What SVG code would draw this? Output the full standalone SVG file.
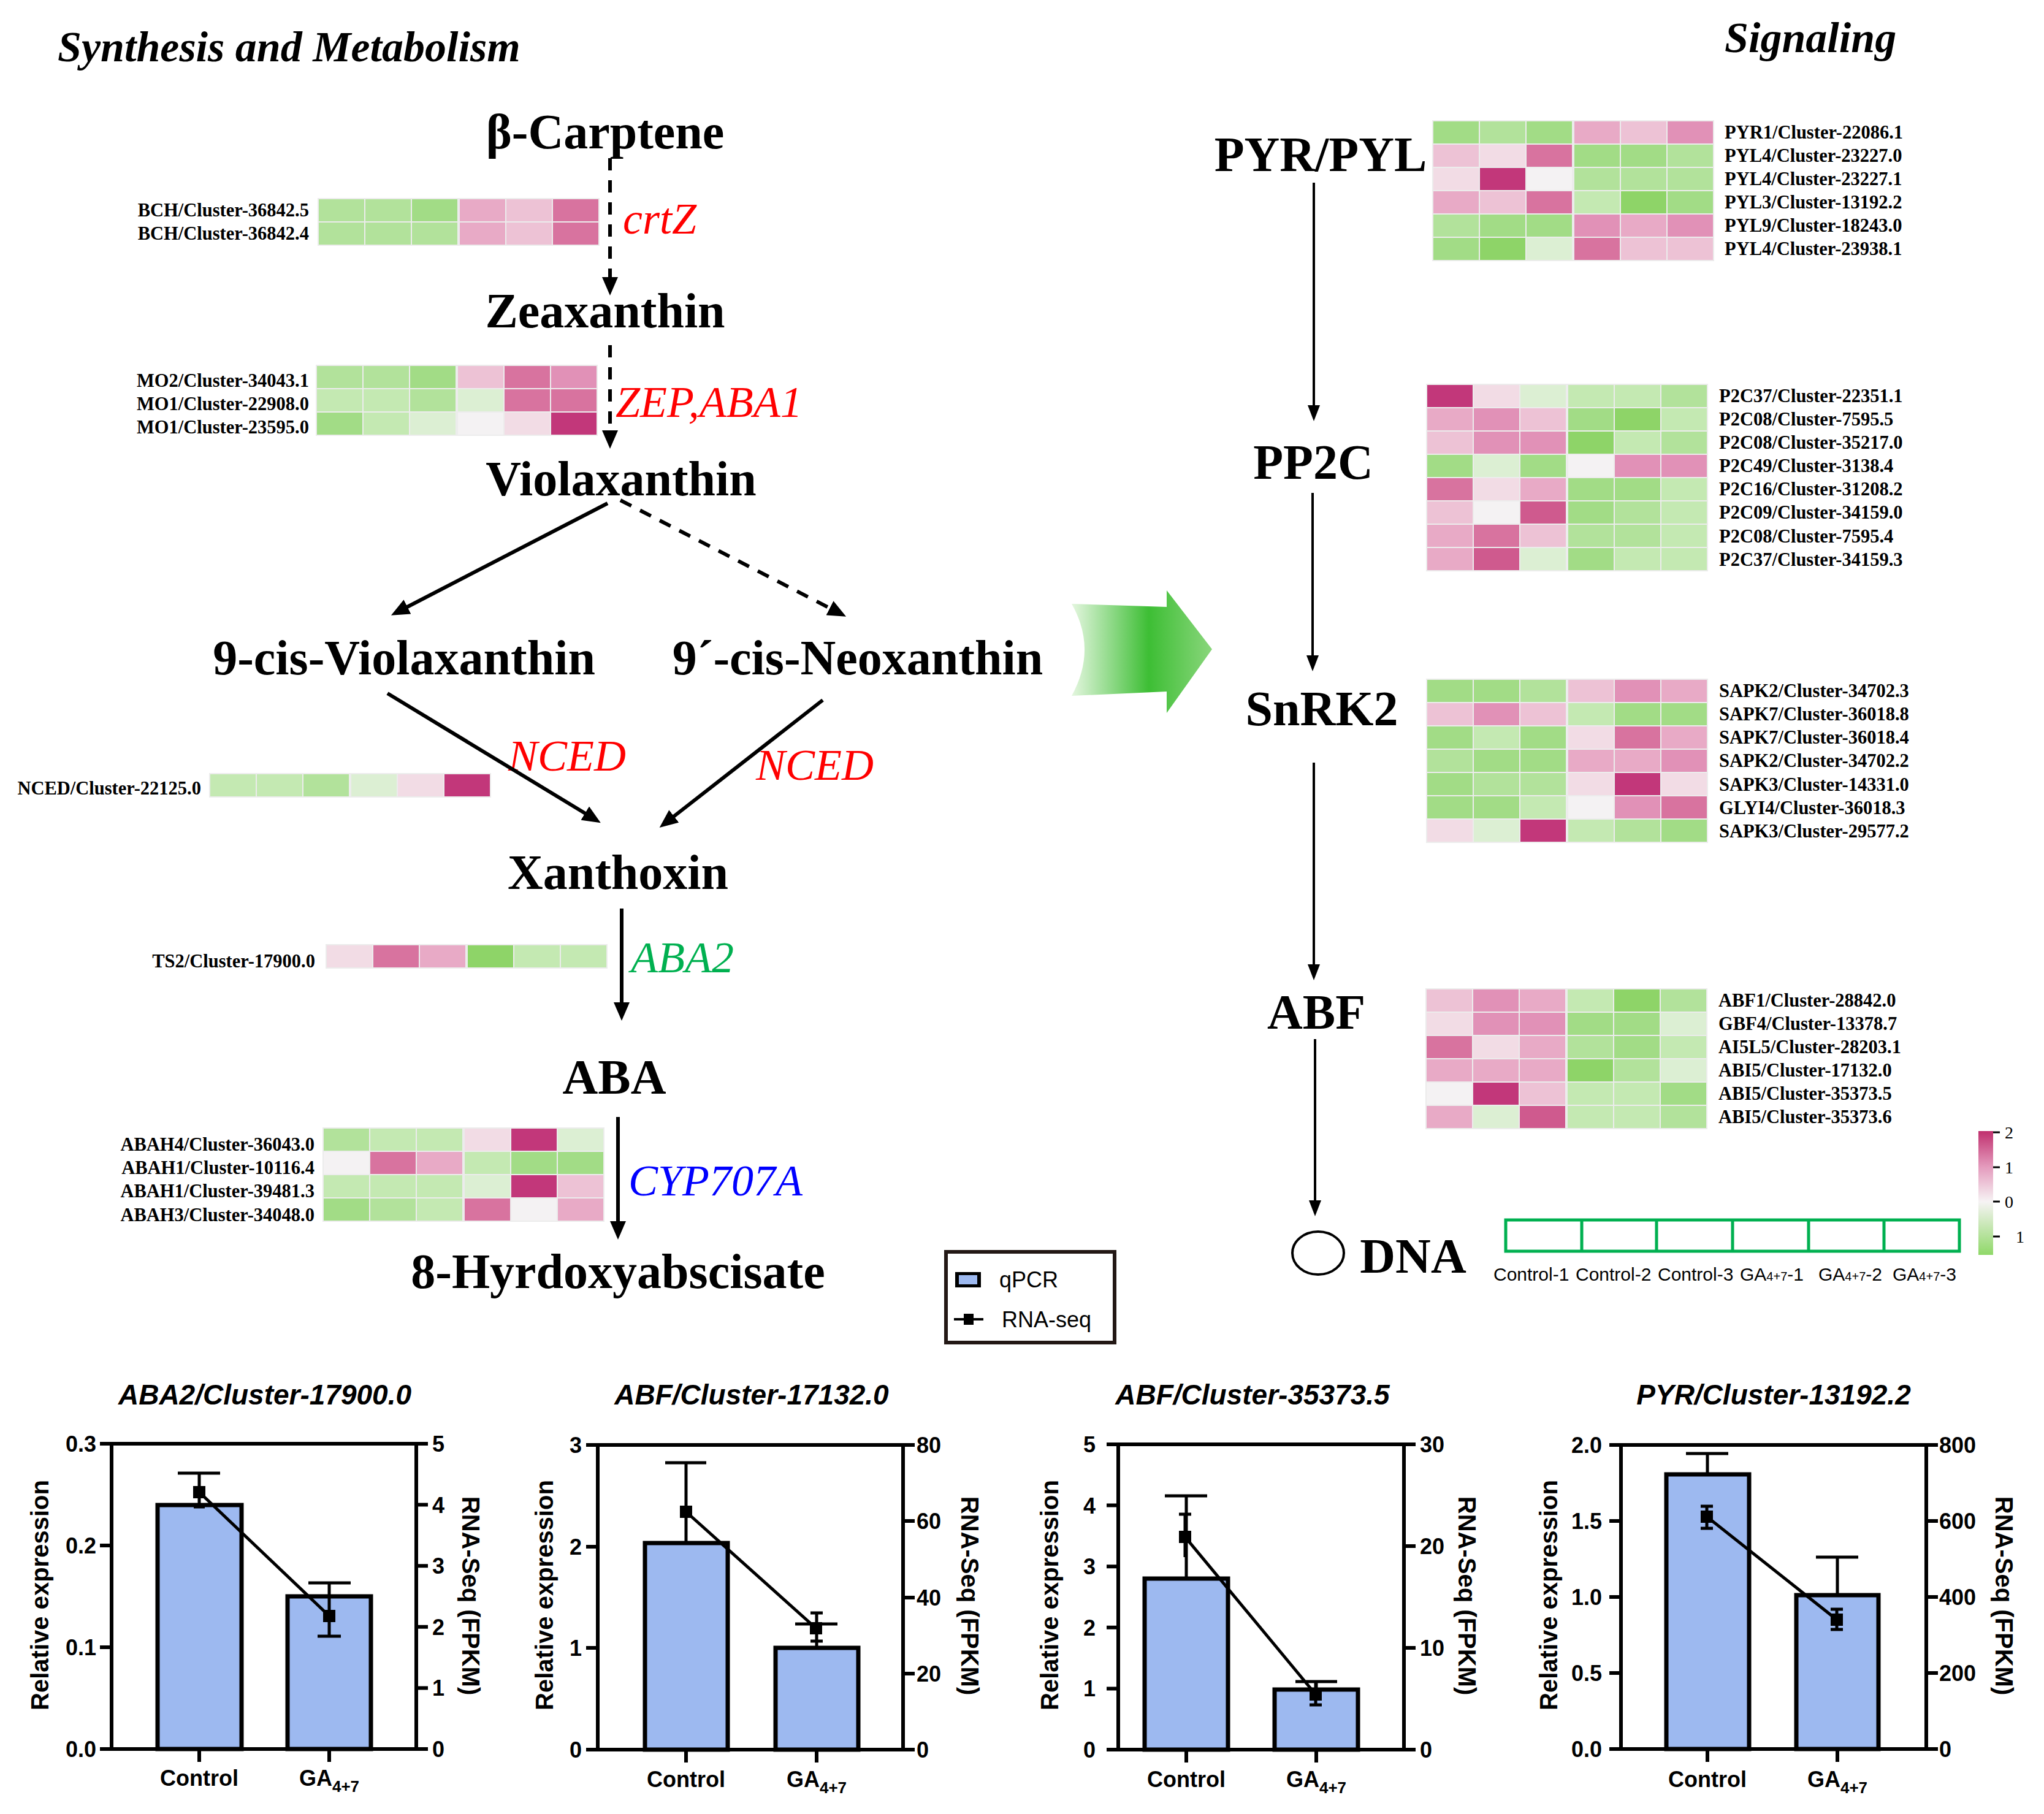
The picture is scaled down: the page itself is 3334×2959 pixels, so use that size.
<svg xmlns="http://www.w3.org/2000/svg" width="3334" height="2959" viewBox="0 0 3334 2959">
<style>
.ser{font-family:"Liberation Serif","Times New Roman",serif}
.cmp{font-family:"Liberation Serif","Times New Roman",serif;font-weight:bold;font-size:80px;text-anchor:middle;fill:#000}
.ttl{font-family:"Liberation Serif","Times New Roman",serif;font-weight:bold;font-style:italic;font-size:70px;fill:#000}
.enz{font-family:"Liberation Serif","Times New Roman",serif;font-style:italic;font-size:72px}
.lbl{font-family:"Liberation Serif","Times New Roman",serif;font-weight:bold;font-size:30.5px;fill:#000}
.lL{text-anchor:end}
.hm rect{width:74px;height:36px}
.bg{fill:#ececec}
.g4{fill:#8ed468}.g3{fill:#a2dc86}.g2{fill:#b2e29b}.g1{fill:#c4e9b2}.g0{fill:#dcefd3}.w{fill:#f4f2f3}
.p0{fill:#f2dce5}.p1{fill:#edc2d5}.p2{fill:#e8aac6}.p3{fill:#e191b7}.p4{fill:#d8739f}.p5{fill:#cf5a8e}.p6{fill:#c2377a}
.arr{stroke:#000;stroke-width:6;fill:none}
.dash{stroke-dasharray:20 16}
.arr2{stroke:#000;stroke-width:4;fill:none}
.ct{font-family:"Liberation Sans",Arial,sans-serif;font-weight:bold;font-style:italic;font-size:46px;text-anchor:middle}
.tk{font-family:"Liberation Sans",Arial,sans-serif;font-weight:bold;font-size:36px}
.te{text-anchor:end}
.xl{font-family:"Liberation Sans",Arial,sans-serif;font-weight:bold;font-size:36px;text-anchor:middle}
.sub{font-size:26px}
.yl{font-family:"Liberation Sans",Arial,sans-serif;font-weight:bold;font-size:40px;text-anchor:middle}
.ax{stroke:#000;stroke-width:6;fill:none}
.bar{fill:#9db9f0;stroke:#000;stroke-width:7}
.eb{stroke:#000;stroke-width:5;fill:none}
.cl{font-family:"Liberation Sans",Arial,sans-serif;font-size:30px;fill:#000}
.lg{font-family:"Liberation Sans",Arial,sans-serif;font-size:36px;fill:#000}
</style>
<defs>
<marker id="ah" viewBox="0 0 30 26" refX="22" refY="13" markerWidth="30" markerHeight="26" markerUnits="userSpaceOnUse" orient="auto"><path d="M0,0 L30,13 L0,26 Z" fill="#000"/></marker>
<marker id="ah2" viewBox="0 0 26 20" refX="18" refY="10" markerWidth="26" markerHeight="20" markerUnits="userSpaceOnUse" orient="auto"><path d="M0,0 L26,10 L0,20 Z" fill="#000"/></marker>
<linearGradient id="cs" x1="0" y1="0" x2="0" y2="1">
<stop offset="0" stop-color="#c0306e"/><stop offset="0.29" stop-color="#e49bbd"/><stop offset="0.57" stop-color="#f6f3f4"/><stop offset="1" stop-color="#8fd868"/>
</linearGradient>
<linearGradient id="ga" x1="0" y1="0" x2="1" y2="0">
<stop offset="0" stop-color="#e4f6df"/><stop offset="0.55" stop-color="#3dbe34"/><stop offset="1" stop-color="#8ad67c"/>
</linearGradient>
</defs>
<rect width="3334" height="2959" fill="#fff"/>

<text class="ttl" x="94" y="100">Synthesis and Metabolism</text>
<text class="ttl" x="2813" y="85">Signaling</text>

<!-- compounds -->
<g id="n-carotene"><text class="cmp" x="987" y="242">β-Carptene</text></g>
<g id="n-zeaxanthin"><text class="cmp" x="987" y="534">Zeaxanthin</text></g>
<g id="n-violaxanthin"><text class="cmp" x="1013" y="808">Violaxanthin</text></g>
<g id="n-9cisviola"><text class="cmp" x="659" y="1100">9-cis-Violaxanthin</text></g>
<g id="n-9cisneo"><text class="cmp" x="1399" y="1100">9´-cis-Neoxanthin</text></g>
<g id="n-xanthoxin"><text class="cmp" x="1008" y="1450">Xanthoxin</text></g>
<g id="n-aba"><text class="cmp" x="1002" y="1784">ABA</text></g>
<g id="n-8ha"><text class="cmp" x="1008" y="2101">8-Hyrdoxyabscisate</text></g>

<g id="n-pyr"><text class="cmp" x="2154" y="279">PYR/PYL</text></g>
<g id="n-pp2c"><text class="cmp" x="2142" y="781">PP2C</text></g>
<g id="n-snrk2"><text class="cmp" x="2156" y="1183">SnRK2</text></g>
<g id="n-abf"><text class="cmp" x="2147" y="1678">ABF</text></g>
<g id="n-dna"><ellipse cx="2150" cy="2044" rx="42" ry="35" fill="none" stroke="#000" stroke-width="4"/><text class="cmp" x="2305" y="2076">DNA</text></g>

<!-- enzymes -->
<g id="enzymes">
<text class="enz" x="1016" y="381" fill="#ff0000">crtZ</text>
<text class="enz" x="1004" y="680" fill="#ff0000">ZEP,ABA1</text>
<text class="enz" x="829" y="1257" fill="#ff0000">NCED</text>
<text class="enz" x="1233" y="1272" fill="#ff0000">NCED</text>
<text class="enz" x="1029" y="1586" fill="#00b050">ABA2</text>
<text class="enz" x="1025" y="1950" fill="#0000ff">CYP707A</text>
</g>

<!-- connectors -->
<g id="connectors">
<path class="arr dash" d="M995,258 V474" marker-end="url(#ah)"/>
<path class="arr dash" d="M995,563 V724" marker-end="url(#ah)"/>
<path class="arr" d="M991,821 L645,1000" marker-end="url(#ah)"/>
<path class="arr dash" d="M1012,816 L1373,1002" marker-end="url(#ah)"/>
<path class="arr" d="M632,1131 L973,1338" marker-end="url(#ah)"/>
<path class="arr" d="M1342,1142 L1082,1345" marker-end="url(#ah)"/>
<path class="arr" d="M1014,1482 V1657" marker-end="url(#ah)"/>
<path class="arr" d="M1008,1822 V2014" marker-end="url(#ah)"/>
<path class="arr2" d="M2143,298 V679" marker-end="url(#ah2)"/>
<path class="arr2" d="M2141,804 V1087" marker-end="url(#ah2)"/>
<path class="arr2" d="M2143,1244 V1591" marker-end="url(#ah2)"/>
<path class="arr2" d="M2145,1695 V1976" marker-end="url(#ah2)"/>
<path d="M1748,985 Q1790,1059 1748,1135 L1903,1128 L1903,1163 L1977,1059 L1903,963 L1903,990 Z" fill="url(#ga)"/>
</g>

<!-- heatmaps -->
<g id="hm-bch" class="hm" transform="translate(519,324)">
<rect class="bg" x="-1" y="-1" style="width:460px;height:78px"/>
<rect x="1" y="1" class="g2"/><rect x="77" y="1" class="g2"/><rect x="153" y="1" class="g3"/><rect x="231" y="1" class="p2"/><rect x="307" y="1" class="p1"/><rect x="383" y="1" class="p4"/>
<rect x="1" y="39" class="g2"/><rect x="77" y="39" class="g2"/><rect x="153" y="39" class="g2"/><rect x="231" y="39" class="p2"/><rect x="307" y="39" class="p1"/><rect x="383" y="39" class="p4"/>
</g>
<g id="lb-bch" class="lbl lL"><text x="504" y="353">BCH/Cluster-36842.5</text><text x="504" y="391">BCH/Cluster-36842.4</text></g>

<g id="hm-mo" class="hm" transform="translate(516,596)">
<rect class="bg" x="-1" y="-1" style="width:460px;height:116px"/>
<rect x="1" y="1" class="g2"/><rect x="77" y="1" class="g2"/><rect x="153" y="1" class="g3"/><rect x="231" y="1" class="p1"/><rect x="307" y="1" class="p4"/><rect x="383" y="1" class="p3"/>
<rect x="1" y="39" class="g1"/><rect x="77" y="39" class="g1"/><rect x="153" y="39" class="g2"/><rect x="231" y="39" class="g0"/><rect x="307" y="39" class="p4"/><rect x="383" y="39" class="p4"/>
<rect x="1" y="77" class="g3"/><rect x="77" y="77" class="g1"/><rect x="153" y="77" class="g0"/><rect x="231" y="77" class="w"/><rect x="307" y="77" class="p0"/><rect x="383" y="77" class="p6"/>
</g>
<g id="lb-mo" class="lbl lL"><text x="504" y="631">MO2/Cluster-34043.1</text><text x="504" y="669">MO1/Cluster-22908.0</text><text x="504" y="707">MO1/Cluster-23595.0</text></g>

<g id="hm-nced" class="hm" transform="translate(342,1262)">
<rect class="bg" x="-1" y="-1" style="width:460px;height:40px"/>
<rect x="1" y="1" class="g1"/><rect x="77" y="1" class="g1"/><rect x="153" y="1" class="g2"/><rect x="231" y="1" class="g0"/><rect x="307" y="1" class="p0"/><rect x="383" y="1" class="p6"/>
</g>
<g id="lb-nced" class="lbl lL"><text x="328" y="1296">NCED/Cluster-22125.0</text></g>

<g id="hm-ts2" class="hm" transform="translate(532,1541)">
<rect class="bg" x="-1" y="-1" style="width:460px;height:40px"/>
<rect x="1" y="1" class="p0"/><rect x="77" y="1" class="p4"/><rect x="153" y="1" class="p2"/><rect x="231" y="1" class="g4"/><rect x="307" y="1" class="g1"/><rect x="383" y="1" class="g1"/>
</g>
<g id="lb-ts2" class="lbl lL"><text x="514" y="1578">TS2/Cluster-17900.0</text></g>

<g id="hm-abah" class="hm" transform="translate(527,1840)">
<rect class="bg" x="-1" y="-1" style="width:460px;height:154px"/>
<rect x="1" y="1" class="g2"/><rect x="77" y="1" class="g1"/><rect x="153" y="1" class="g1"/><rect x="231" y="1" class="p0"/><rect x="307" y="1" class="p6"/><rect x="383" y="1" class="g0"/>
<rect x="1" y="39" class="w"/><rect x="77" y="39" class="p4"/><rect x="153" y="39" class="p2"/><rect x="231" y="39" class="g1"/><rect x="307" y="39" class="g3"/><rect x="383" y="39" class="g3"/>
<rect x="1" y="77" class="g1"/><rect x="77" y="77" class="g1"/><rect x="153" y="77" class="g1"/><rect x="231" y="77" class="g0"/><rect x="307" y="77" class="p6"/><rect x="383" y="77" class="p1"/>
<rect x="1" y="115" class="g3"/><rect x="77" y="115" class="g2"/><rect x="153" y="115" class="g1"/><rect x="231" y="115" class="p4"/><rect x="307" y="115" class="w"/><rect x="383" y="115" class="p2"/>
</g>
<g id="lb-abah" class="lbl lL"><text x="513" y="1877">ABAH4/Cluster-36043.0</text><text x="513" y="1915">ABAH1/Cluster-10116.4</text><text x="513" y="1953">ABAH1/Cluster-39481.3</text><text x="513" y="1992">ABAH3/Cluster-34048.0</text></g>

<g id="hm-pyr" class="hm" transform="translate(2337,197)">
<rect class="bg" x="-1" y="-1" style="width:460px;height:230px"/>
<rect x="1" y="1" class="g3"/><rect x="77" y="1" class="g2"/><rect x="153" y="1" class="g3"/><rect x="231" y="1" class="p2"/><rect x="307" y="1" class="p1"/><rect x="383" y="1" class="p3"/>
<rect x="1" y="39" class="p1"/><rect x="77" y="39" class="p0"/><rect x="153" y="39" class="p4"/><rect x="231" y="39" class="g3"/><rect x="307" y="39" class="g3"/><rect x="383" y="39" class="g2"/>
<rect x="1" y="77" class="p0"/><rect x="77" y="77" class="p6"/><rect x="153" y="77" class="w"/><rect x="231" y="77" class="g2"/><rect x="307" y="77" class="g2"/><rect x="383" y="77" class="g2"/>
<rect x="1" y="115" class="p2"/><rect x="77" y="115" class="p1"/><rect x="153" y="115" class="p4"/><rect x="231" y="115" class="g1"/><rect x="307" y="115" class="g4"/><rect x="383" y="115" class="g3"/>
<rect x="1" y="153" class="g2"/><rect x="77" y="153" class="g3"/><rect x="153" y="153" class="g3"/><rect x="231" y="153" class="p3"/><rect x="307" y="153" class="p2"/><rect x="383" y="153" class="p3"/>
<rect x="1" y="191" class="g3"/><rect x="77" y="191" class="g4"/><rect x="153" y="191" class="g0"/><rect x="231" y="191" class="p4"/><rect x="307" y="191" class="p1"/><rect x="383" y="191" class="p1"/>
</g>
<g id="lb-pyr" class="lbl"><text x="2813" y="226">PYR1/Cluster-22086.1</text><text x="2813" y="264">PYL4/Cluster-23227.0</text><text x="2813" y="302">PYL4/Cluster-23227.1</text><text x="2813" y="340">PYL3/Cluster-13192.2</text><text x="2813" y="378">PYL9/Cluster-18243.0</text><text x="2813" y="416">PYL4/Cluster-23938.1</text></g>

<g id="hm-p2c" class="hm" transform="translate(2327,627)">
<rect class="bg" x="-1" y="-1" style="width:460px;height:306px"/>
<rect x="1" y="1" class="p6"/><rect x="77" y="1" class="p0"/><rect x="153" y="1" class="g0"/><rect x="231" y="1" class="g1"/><rect x="307" y="1" class="g1"/><rect x="383" y="1" class="g2"/>
<rect x="1" y="39" class="p2"/><rect x="77" y="39" class="p3"/><rect x="153" y="39" class="p1"/><rect x="231" y="39" class="g3"/><rect x="307" y="39" class="g4"/><rect x="383" y="39" class="g1"/>
<rect x="1" y="77" class="p1"/><rect x="77" y="77" class="p3"/><rect x="153" y="77" class="p3"/><rect x="231" y="77" class="g4"/><rect x="307" y="77" class="g1"/><rect x="383" y="77" class="g2"/>
<rect x="1" y="115" class="g3"/><rect x="77" y="115" class="g0"/><rect x="153" y="115" class="g3"/><rect x="231" y="115" class="w"/><rect x="307" y="115" class="p3"/><rect x="383" y="115" class="p3"/>
<rect x="1" y="153" class="p4"/><rect x="77" y="153" class="p0"/><rect x="153" y="153" class="p2"/><rect x="231" y="153" class="g3"/><rect x="307" y="153" class="g3"/><rect x="383" y="153" class="g1"/>
<rect x="1" y="191" class="p1"/><rect x="77" y="191" class="w"/><rect x="153" y="191" class="p5"/><rect x="231" y="191" class="g3"/><rect x="307" y="191" class="g2"/><rect x="383" y="191" class="g1"/>
<rect x="1" y="229" class="p2"/><rect x="77" y="229" class="p4"/><rect x="153" y="229" class="p1"/><rect x="231" y="229" class="g2"/><rect x="307" y="229" class="g2"/><rect x="383" y="229" class="g1"/>
<rect x="1" y="267" class="p2"/><rect x="77" y="267" class="p5"/><rect x="153" y="267" class="g0"/><rect x="231" y="267" class="g3"/><rect x="307" y="267" class="g1"/><rect x="383" y="267" class="g1"/>
</g>
<g id="lb-p2c" class="lbl"><text x="2804" y="656">P2C37/Cluster-22351.1</text><text x="2804" y="694">P2C08/Cluster-7595.5</text><text x="2804" y="732">P2C08/Cluster-35217.0</text><text x="2804" y="770">P2C49/Cluster-3138.4</text><text x="2804" y="808">P2C16/Cluster-31208.2</text><text x="2804" y="846">P2C09/Cluster-34159.0</text><text x="2804" y="885">P2C08/Cluster-7595.4</text><text x="2804" y="923">P2C37/Cluster-34159.3</text></g>

<g id="hm-sapk" class="hm" transform="translate(2327,1108)">
<rect class="bg" x="-1" y="-1" style="width:460px;height:268px"/>
<rect x="1" y="1" class="g3"/><rect x="77" y="1" class="g3"/><rect x="153" y="1" class="g2"/><rect x="231" y="1" class="p1"/><rect x="307" y="1" class="p3"/><rect x="383" y="1" class="p2"/>
<rect x="1" y="39" class="p1"/><rect x="77" y="39" class="p3"/><rect x="153" y="39" class="p1"/><rect x="231" y="39" class="g1"/><rect x="307" y="39" class="g3"/><rect x="383" y="39" class="g3"/>
<rect x="1" y="77" class="g3"/><rect x="77" y="77" class="g1"/><rect x="153" y="77" class="g3"/><rect x="231" y="77" class="p0"/><rect x="307" y="77" class="p4"/><rect x="383" y="77" class="p2"/>
<rect x="1" y="115" class="g2"/><rect x="77" y="115" class="g3"/><rect x="153" y="115" class="g3"/><rect x="231" y="115" class="p2"/><rect x="307" y="115" class="p2"/><rect x="383" y="115" class="p3"/>
<rect x="1" y="153" class="g3"/><rect x="77" y="153" class="g2"/><rect x="153" y="153" class="g2"/><rect x="231" y="153" class="p0"/><rect x="307" y="153" class="p6"/><rect x="383" y="153" class="p0"/>
<rect x="1" y="191" class="g3"/><rect x="77" y="191" class="g3"/><rect x="153" y="191" class="g1"/><rect x="231" y="191" class="w"/><rect x="307" y="191" class="p3"/><rect x="383" y="191" class="p4"/>
<rect x="1" y="229" class="p0"/><rect x="77" y="229" class="g0"/><rect x="153" y="229" class="p6"/><rect x="231" y="229" class="g1"/><rect x="307" y="229" class="g2"/><rect x="383" y="229" class="g3"/>
</g>
<g id="lb-sapk" class="lbl"><text x="2804" y="1137">SAPK2/Cluster-34702.3</text><text x="2804" y="1175">SAPK7/Cluster-36018.8</text><text x="2804" y="1213">SAPK7/Cluster-36018.4</text><text x="2804" y="1251">SAPK2/Cluster-34702.2</text><text x="2804" y="1290">SAPK3/Cluster-14331.0</text><text x="2804" y="1328">GLYI4/Cluster-36018.3</text><text x="2804" y="1366">SAPK3/Cluster-29577.2</text></g>

<g id="hm-abf" class="hm" transform="translate(2326,1613)">
<rect class="bg" x="-1" y="-1" style="width:460px;height:230px"/>
<rect x="1" y="1" class="p1"/><rect x="77" y="1" class="p3"/><rect x="153" y="1" class="p2"/><rect x="231" y="1" class="g1"/><rect x="307" y="1" class="g4"/><rect x="383" y="1" class="g2"/>
<rect x="1" y="39" class="p0"/><rect x="77" y="39" class="p3"/><rect x="153" y="39" class="p3"/><rect x="231" y="39" class="g3"/><rect x="307" y="39" class="g3"/><rect x="383" y="39" class="g0"/>
<rect x="1" y="77" class="p4"/><rect x="77" y="77" class="p0"/><rect x="153" y="77" class="p2"/><rect x="231" y="77" class="g2"/><rect x="307" y="77" class="g3"/><rect x="383" y="77" class="g1"/>
<rect x="1" y="115" class="p2"/><rect x="77" y="115" class="p2"/><rect x="153" y="115" class="p2"/><rect x="231" y="115" class="g4"/><rect x="307" y="115" class="g2"/><rect x="383" y="115" class="g0"/>
<rect x="1" y="153" class="w"/><rect x="77" y="153" class="p6"/><rect x="153" y="153" class="p1"/><rect x="231" y="153" class="g1"/><rect x="307" y="153" class="g1"/><rect x="383" y="153" class="g3"/>
<rect x="1" y="191" class="p2"/><rect x="77" y="191" class="g0"/><rect x="153" y="191" class="p5"/><rect x="231" y="191" class="g1"/><rect x="307" y="191" class="g1"/><rect x="383" y="191" class="g2"/>
</g>
<g id="lb-abf" class="lbl"><text x="2803" y="1642">ABF1/Cluster-28842.0</text><text x="2803" y="1680">GBF4/Cluster-13378.7</text><text x="2803" y="1718">AI5L5/Cluster-28203.1</text><text x="2803" y="1756">ABI5/Cluster-17132.0</text><text x="2803" y="1794">ABI5/Cluster-35373.5</text><text x="2803" y="1832">ABI5/Cluster-35373.6</text></g>

<!-- color scale -->
<g id="colorscale">
<rect x="3227" y="1845" width="24" height="202" fill="url(#cs)"/>
<path d="M3251,1847 H3262 M3251,1904 H3262 M3251,1960 H3262 M3251,2017 H3262" stroke="#000" stroke-width="3"/>
<g class="ser" font-size="28"><text x="3270" y="1857">2</text><text x="3270" y="1914">1</text><text x="3270" y="1970">0</text><text x="3288" y="2027">1</text></g>
</g>

<!-- sample legend -->
<g id="samples">
<rect x="2456" y="1990" width="740" height="51" fill="none" stroke="#00b050" stroke-width="5"/>
<path d="M2580,1990 V2041 M2702,1990 V2041 M2826,1990 V2041 M2950,1990 V2041 M3073,1990 V2041" stroke="#00b050" stroke-width="5"/>
<text class="cl" x="2436" y="2089">Control-1</text>
<text class="cl" x="2570" y="2089">Control-2</text>
<text class="cl" x="2704" y="2089">Control-3</text>
<text class="cl" x="2838" y="2089">GA<tspan font-size="20">4+7</tspan>-1</text>
<text class="cl" x="2966" y="2089">GA<tspan font-size="20">4+7</tspan>-2</text>
<text class="cl" x="3087" y="2089">GA<tspan font-size="20">4+7</tspan>-3</text>
</g>

<!-- qPCR legend -->
<g id="legend">
<rect x="1543" y="2042" width="275" height="148" fill="#fff" stroke="#231815" stroke-width="6"/>
<rect x="1558" y="2075" width="42" height="25" fill="#000"/>
<rect x="1564" y="2080" width="30" height="15" fill="#9db9f0"/>
<text class="lg" x="1630" y="2100">qPCR</text>
<path d="M1556,2152 H1604" stroke="#000" stroke-width="4"/>
<rect x="1572" y="2143" width="16" height="18" fill="#000"/>
<text class="lg" x="1634" y="2165">RNA-seq</text>
</g>

<!-- chart 1 -->
<g id="chart1">
<text class="ct" x="432" y="2291">ABA2/Cluster-17900.0</text>
<rect class="bar" x="257" y="2455" width="137" height="398"/>
<rect class="bar" x="469" y="2604" width="136" height="249"/>
<path class="ax" d="M163,2355 H698 M163,2853 H698 M182,2355 V2853 M679,2355 V2853 M163,2521 H182 M163,2687 H182 M679,2454.6 H698 M679,2554.2 H698 M679,2653.8 H698 M679,2753.4 H698 M325,2853 V2874 M537,2853 V2874"/>
<path class="eb" d="M325,2455 V2403 M290,2403 H359 M537,2604 V2582 M503,2582 H572 M325,2434 V2458 M316,2458 H334 M537,2603 V2669 M518,2669 H556 M325,2434 L537,2636"/>
<rect x="315" y="2424" width="20" height="20"/><rect x="527" y="2626" width="20" height="20"/>
<g class="tk te"><text x="157" y="2866">0.0</text><text x="157" y="2700">0.1</text><text x="157" y="2534">0.2</text><text x="157" y="2368">0.3</text></g>
<g class="tk"><text x="705" y="2866">0</text><text x="705" y="2766">1</text><text x="705" y="2667">2</text><text x="705" y="2567">3</text><text x="705" y="2468">4</text><text x="705" y="2368">5</text></g>
<text class="xl" x="325" y="2913">Control</text><text class="xl" x="537" y="2913">GA<tspan class="sub" dy="10">4+7</tspan></text>
<text class="yl" transform="translate(79,2602) rotate(-90)">Relative expression</text>
<text class="yl" transform="translate(754,2603) rotate(90)">RNA-Seq (FPKM)</text>
</g>

<!-- chart 2 -->
<g id="chart2">
<text class="ct" x="1226" y="2291">ABF/Cluster-17132.0</text>
<rect class="bar" x="1052" y="2517" width="135" height="337"/>
<rect class="bar" x="1265" y="2688" width="135" height="166"/>
<path class="ax" d="M956,2357 H1492 M956,2854 H1492 M975,2357 V2854 M1473,2357 V2854 M956,2523 H975 M956,2688 H975 M1473,2481 H1492 M1473,2606 H1492 M1473,2730 H1492 M1119,2854 V2875 M1332,2854 V2875"/>
<path class="eb" d="M1119,2517 V2386 M1085,2386 H1152 M1332,2688 V2649 M1297,2649 H1366 M1332,2631 V2677 M1322,2631 H1342 M1322,2677 H1342 M1119,2466 L1331,2656"/>
<rect x="1109" y="2456" width="20" height="20"/><rect x="1321" y="2646" width="20" height="20"/>
<g class="tk te"><text x="949" y="2867">0</text><text x="949" y="2701">1</text><text x="949" y="2536">2</text><text x="949" y="2370">3</text></g>
<g class="tk"><text x="1495" y="2867">0</text><text x="1495" y="2743">20</text><text x="1495" y="2619">40</text><text x="1495" y="2494">60</text><text x="1495" y="2370">80</text></g>
<text class="xl" x="1119" y="2915">Control</text><text class="xl" x="1332" y="2915">GA<tspan class="sub" dy="10">4+7</tspan></text>
<text class="yl" transform="translate(902,2602) rotate(-90)">Relative expression</text>
<text class="yl" transform="translate(1568,2603) rotate(90)">RNA-Seq (FPKM)</text>
</g>

<!-- chart 3 -->
<g id="chart3">
<text class="ct" x="2043" y="2291">ABF/Cluster-35373.5</text>
<rect class="bar" x="1867" y="2575" width="136" height="279"/>
<rect class="bar" x="2079" y="2756" width="136" height="98"/>
<path class="ax" d="M1805,2356 H2309 M1805,2854 H2309 M1824,2356 V2854 M2290,2356 V2854 M1805,2455.6 H1824 M1805,2555.2 H1824 M1805,2654.8 H1824 M1805,2754.4 H1824 M2290,2522 H2309 M2290,2688 H2309 M1935,2854 V2875 M2147,2854 V2875"/>
<path class="eb" d="M1935,2575 V2440 M1900,2440 H1969 M2147,2756 V2743 M2113,2743 H2181 M1933,2470 V2540 M1923,2470 H1943 M2146,2743 V2781 M2136,2781 H2156 M1933,2507 L2146,2764"/>
<rect x="1923" y="2497" width="20" height="20"/><rect x="2136" y="2754" width="20" height="20"/>
<g class="tk te"><text x="1787" y="2867">0</text><text x="1787" y="2767">1</text><text x="1787" y="2668">2</text><text x="1787" y="2568">3</text><text x="1787" y="2469">4</text><text x="1787" y="2369">5</text></g>
<g class="tk"><text x="2316" y="2867">0</text><text x="2316" y="2701">10</text><text x="2316" y="2535">20</text><text x="2316" y="2369">30</text></g>
<text class="xl" x="1935" y="2915">Control</text><text class="xl" x="2147" y="2915">GA<tspan class="sub" dy="10">4+7</tspan></text>
<text class="yl" transform="translate(1726,2602) rotate(-90)">Relative expression</text>
<text class="yl" transform="translate(2379,2603) rotate(90)">RNA-Seq (FPKM)</text>
</g>

<!-- chart 4 -->
<g id="chart4">
<text class="ct" x="2893" y="2291">PYR/Cluster-13192.2</text>
<rect class="bar" x="2718" y="2405" width="135" height="448"/>
<rect class="bar" x="2930" y="2602" width="134" height="251"/>
<path class="ax" d="M2625,2357 H3161 M2625,2853 H3161 M2644,2357 V2853 M3142,2357 V2853 M2625,2481 H2644 M2625,2605 H2644 M2625,2729 H2644 M3142,2481 H3161 M3142,2605 H3161 M3142,2729 H3161 M2785,2853 V2874 M2997,2853 V2874"/>
<path class="eb" d="M2785,2405 V2371 M2750,2371 H2819 M2997,2602 V2540 M2962,2540 H3031 M2784,2457 V2493 M2774,2457 H2794 M2774,2493 H2794 M2996,2625 V2658 M2986,2625 H3006 M2986,2658 H3006 M2784,2474 L2996,2642"/>
<rect x="2774" y="2464" width="20" height="20"/><rect x="2986" y="2632" width="20" height="20"/>
<g class="tk te"><text x="2613" y="2866">0.0</text><text x="2613" y="2742">0.5</text><text x="2613" y="2618">1.0</text><text x="2613" y="2494">1.5</text><text x="2613" y="2370">2.0</text></g>
<g class="tk"><text x="3163" y="2866">0</text><text x="3163" y="2742">200</text><text x="3163" y="2618">400</text><text x="3163" y="2494">600</text><text x="3163" y="2370">800</text></g>
<text class="xl" x="2785" y="2915">Control</text><text class="xl" x="2997" y="2915">GA<tspan class="sub" dy="10">4+7</tspan></text>
<text class="yl" transform="translate(2540,2602) rotate(-90)">Relative expression</text>
<text class="yl" transform="translate(3255,2603) rotate(90)">RNA-Seq (FPKM)</text>
</g>
</svg>
